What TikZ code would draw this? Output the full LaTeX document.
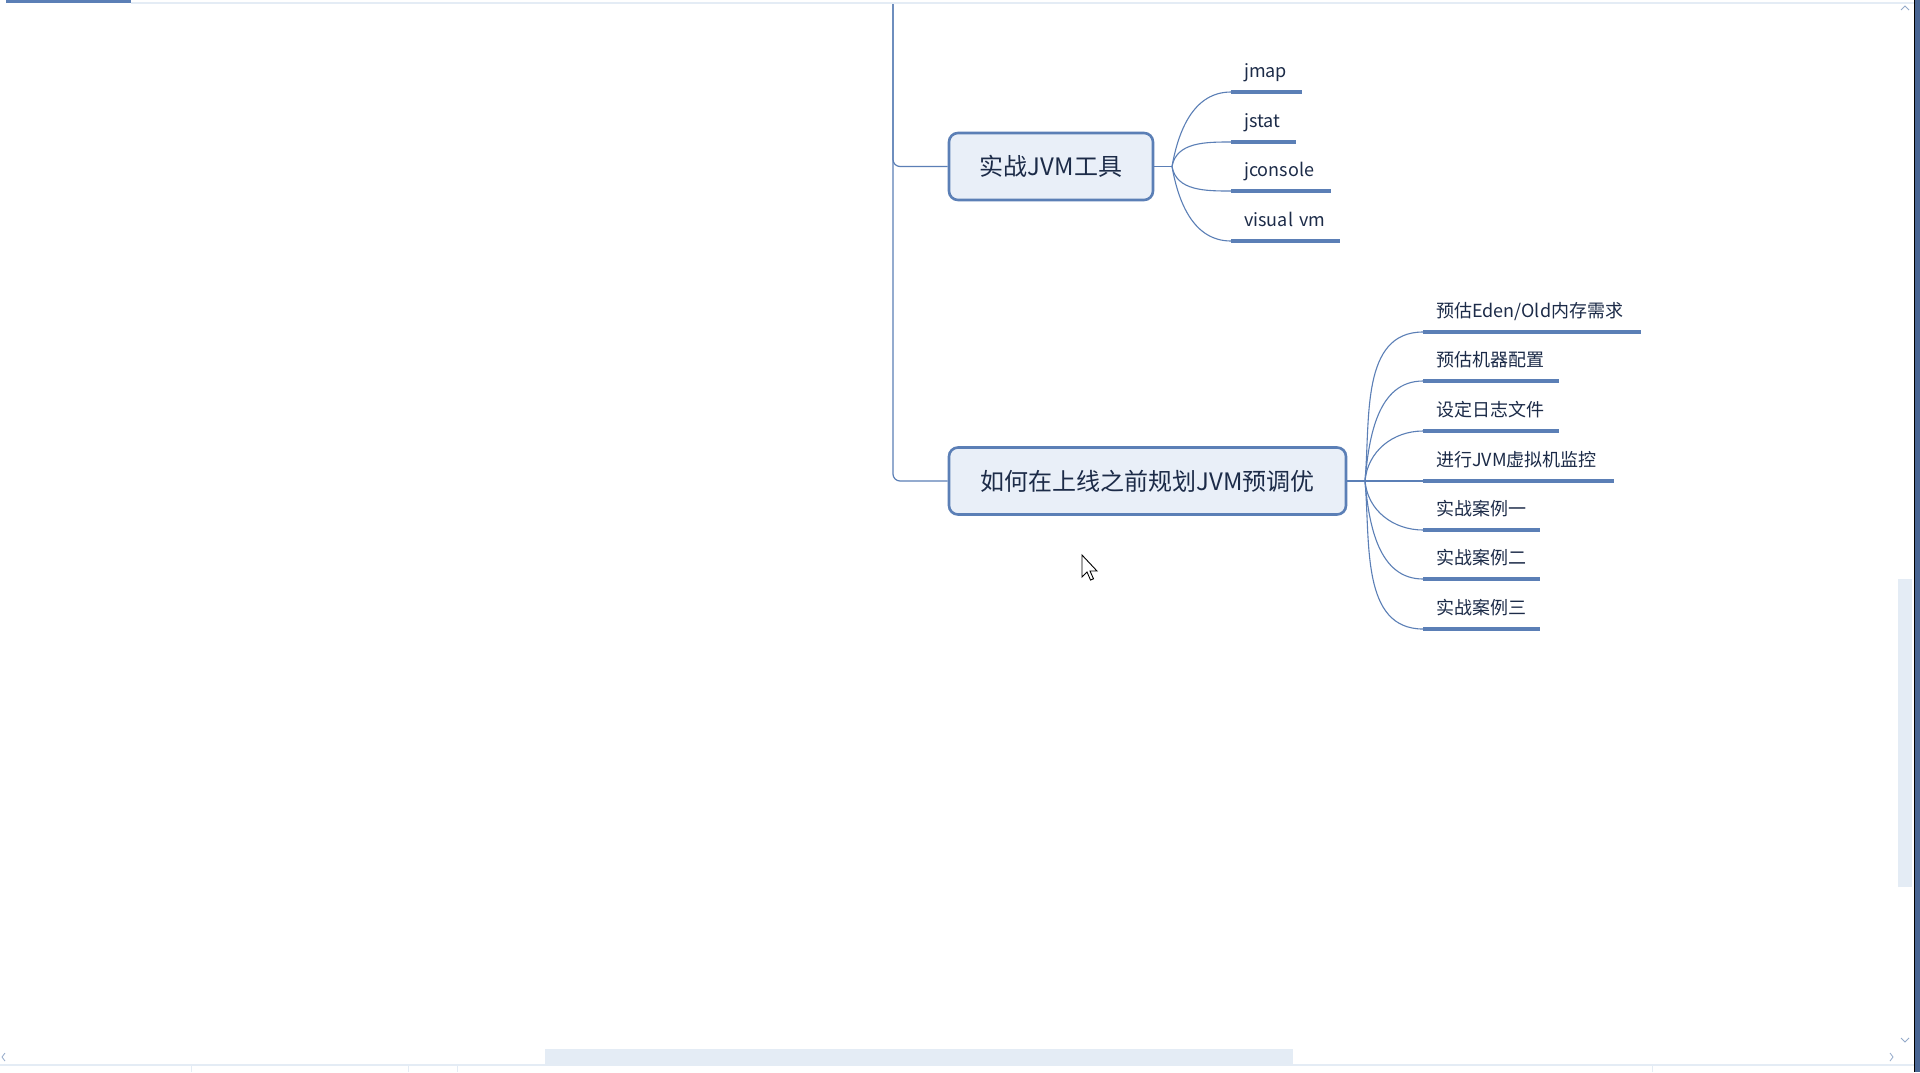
\documentclass[tikz,border=0pt]{standalone}
\usepackage{fontspec}
\usepackage{xcolor}
\newfontfamily\cjk{Noto Sans CJK SC}
\definecolor{mapLine}{HTML}{5B7FB6}
\definecolor{mapFill}{HTML}{E9EFF8}
\definecolor{mapText}{HTML}{1C2B48}
\definecolor{barLight}{HTML}{E4ECF5}
\definecolor{barArrow}{HTML}{93A9C9}
\usetikzlibrary{positioning}

\begin{document}
\begin{tikzpicture}[x=1pt,y=-1pt]
		\tikzset{topic/.style = {draw=mapLine, line width=2.6pt, fill=mapFill, rounded corners=9pt, text=mapText, font=\cjk\fontsize{24}{29}\selectfont, minimum height=67pt, inner xsep=20pt}}
		\tikzset{leaf/.style = {anchor=south west, text=mapText, font=\cjk\fontsize{18}{22}\selectfont, inner xsep=13pt, inner ysep=0pt, text height=17pt, text depth=14pt, text width=#1, align=left}}
		\tikzset{leafBar/.style = {draw=mapLine, line width=4.5pt}}
		\tikzset{branch/.style = {draw=mapLine, line width=1.1pt}}
		\tikzset{trunk/.style = {draw=mapLine, line width=1.2pt, rounded corners=7pt}}

		\useasboundingbox[fill=white] (0,0) rectangle (1920,1072);

		\fill[barLight] (131,2) rectangle (1914,4);
		\fill[mapLine] (6,0) rectangle (131,3);
		\fill[barLight] (1898,579) rectangle (1912,887);
		\fill[barLight] (545,1049) rectangle (1293,1064);
		\fill[barLight] (0,1064) rectangle (1914,1066);
		\foreach \x in {191,408,457,1652}
			\draw[barLight, line width=1pt] (\x,1066) -- (\x,1072);
		\draw[barArrow, line width=0.8pt] (1901,10) -- (1905,6) -- (1909,10);
		\draw[barArrow, line width=0.8pt] (1901,1038) -- (1905,1042) -- (1909,1038);
		\draw[barArrow, line width=0.8pt] (5,1053) -- (2,1057) -- (5,1061);
		\draw[barArrow, line width=0.8pt] (1890,1053) -- (1893,1057) -- (1890,1061);
		\fill[mapLine!80!black] (1914,0) rectangle (1920,1072);
		\draw[black, line width=1pt] (1914.5,0) -- (1914.5,1072);

		\node[topic, minimum width=204pt] (T_1) at (1051,166.5) {实战JVM工具};
		\node[topic, minimum width=397pt] (T_2) at (1147.5,481) {如何在上线之前规划JVM预调优};
		\coordinate (R) at (893,4);
		\coordinate (H_1) at (1172,166.5);
		\coordinate (H_2) at (1365,481);

		\node[leaf=45pt] (L_1) at (1231,92) {jmap};
		\node[leaf=39pt] (L_2) at (1231,142) {jstat};
		\node[leaf=74pt] (L_3) at (1231,191) {jconsole};
		\node[leaf=83pt] (L_4) at (1231,241) {visual vm};

		\node[leaf=192pt] (M_1) at (1423,332) {预估Eden/Old内存需求};
		\node[leaf=110pt] (M_2) at (1423,381) {预估机器配置};
		\node[leaf=110pt] (M_3) at (1423,431) {设定日志文件};
		\node[leaf=165pt] (M_4) at (1423,481) {进行JVM虚拟机监控};
		\node[leaf=91pt] (M_5) at (1423,530) {实战案例一};
		\node[leaf=91pt] (M_6) at (1423,579) {实战案例二};
		\node[leaf=91pt] (M_7) at (1423,629) {实战案例三};

		\draw[trunk] (R) |- (T_1.west);
		\draw[trunk] (R) |- (T_2.west);

		\draw[branch] (T_1.east) -- (H_1);
		\draw[branch] (H_1) to[out=80, in=180] (L_1.south west);
		\draw[branch] (H_1) to[out=80, in=180] (L_2.south west);
		\draw[branch] (H_1) to[out=-80, in=180] (L_3.south west);
		\draw[branch] (H_1) to[out=-80, in=180] (L_4.south west);

		\draw[branch] (T_2.east) -- (H_2);
		\draw[branch] (H_2) to[out=85, in=180] (M_1.south west);
		\draw[branch] (H_2) to[out=85, in=180] (M_2.south west);
		\draw[branch] (H_2) to[out=85, in=180] (M_3.south west);
		\draw[branch] (H_2) -- (M_4.south west);
		\draw[branch] (H_2) to[out=-85, in=180] (M_5.south west);
		\draw[branch] (H_2) to[out=-85, in=180] (M_6.south west);
		\draw[branch] (H_2) to[out=-85, in=180] (M_7.south west);

		\foreach \n in {L_1,L_2,L_3,L_4,M_1,M_2,M_3,M_4,M_5,M_6,M_7}
			\draw[leafBar] (\n.south west) -- (\n.south east);

		\draw[black, fill=white, line width=0.9pt, line join=miter] (1082,555) -- ++(0,22) -- ++(5,-5) -- ++(3.5,8) -- ++(3,-1.2) -- ++(-3.5,-7.8) -- ++(7,0) -- cycle;
	\end{tikzpicture}
\end{document}
